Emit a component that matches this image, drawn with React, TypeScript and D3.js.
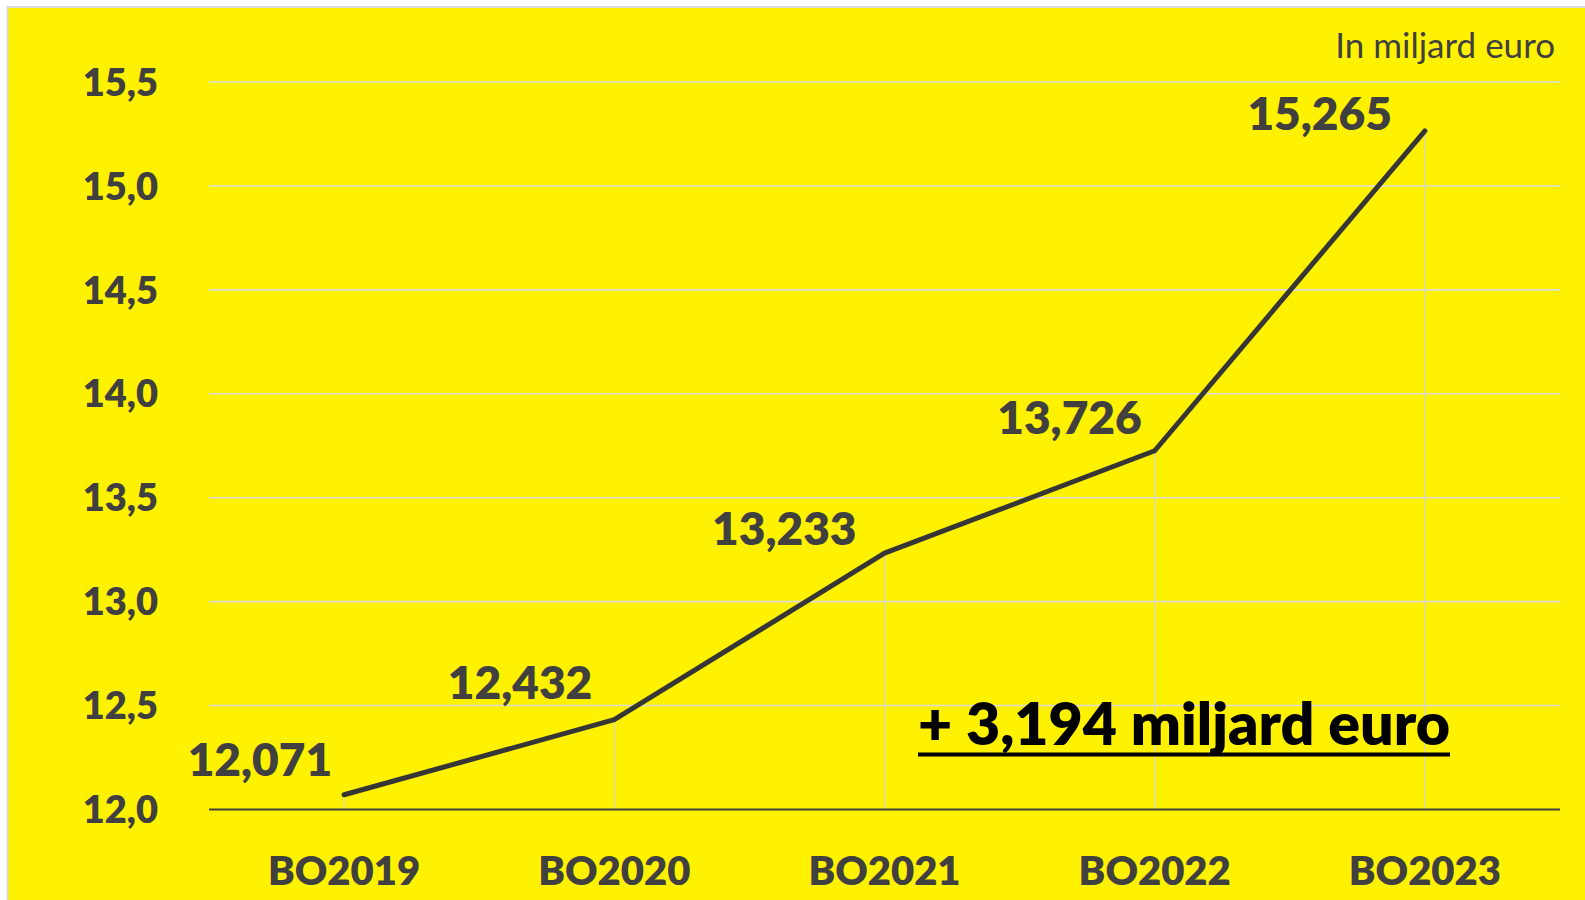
import React from "react";
import * as d3 from "d3";

const categories = ["BO2019", "BO2020", "BO2021", "BO2022", "BO2023"];
const values = [12.071, 12.432, 13.233, 13.726, 15.265];
const valueLabels = ["12,071", "12,432", "13,233", "13,726", "15,265"];
const yTicks = [12.0, 12.5, 13.0, 13.5, 14.0, 14.5, 15.0, 15.5];
const unitLabel = "In miljard euro";
const annotation = "+ 3,194 miljard euro";

// label nudges (dx to right edge, dy to baseline) relative to each point
const labelNudge: [number, number][] = [
  [-12, -19],
  [-22, -21],
  [-28, -8],
  [-13, -17],
  [-33, -1],
];

const W = 1585;
const H = 900;
const FONT = "Lato, 'Open Sans', sans-serif";
const TEXT = "#404040";

export default function App() {
  const x = d3.scalePoint<string>().domain(categories).range([209, 1560]).padding(0.5);
  const y = d3.scaleLinear().domain([12, 15.5]).range([809.5, 82]);
  const fmt = (v: number) => d3.format(".1f")(v).replace(".", ",");
  const line = d3
    .line<number>()
    .x((_, i) => x(categories[i]) as number)
    .y((d) => y(d));

  return (
    <svg
      width={W}
      height={H}
      style={{ position: "absolute", left: 0, top: 0, display: "block" }}
    >
      <rect x={0} y={0} width={W} height={H} fill="#ffffff" />
      <rect x={7.5} y={7} width={W + 10} height={H + 10} fill="#fff200" stroke="#d9d9d9" strokeWidth={2} />

      {/* gridlines */}
      {yTicks
        .filter((t) => t !== 12)
        .map((t) => (
          <line key={t} x1={209} x2={1560} y1={y(t)} y2={y(t)} stroke="#dcdcdc" strokeWidth={1.6} />
        ))}

      {/* drop lines */}
      {values.map((v, i) => (
        <line
          key={"d" + i}
          x1={x(categories[i]) as number}
          x2={x(categories[i]) as number}
          y1={y(v)}
          y2={y(12)}
          stroke="#d4d4d4"
          strokeWidth={1.2}
        />
      ))}

      {/* x axis line */}
      <line x1={209} x2={1560} y1={y(12)} y2={y(12)} stroke="#404040" strokeWidth={1.8} />

      {/* y tick labels */}
      {yTicks.map((t) => (
        <text
          key={"t" + t}
          x={158}
          y={y(t)}
          dy="0.36em"
          textAnchor="end"
          fontFamily={FONT}
          fontWeight={800}
          fontSize={38}
          fill={TEXT}
        >
          {fmt(t)}
        </text>
      ))}

      {/* x labels */}
      {categories.map((c) => (
        <text
          key={c}
          x={x(c) as number}
          y={885}
          textAnchor="middle"
          fontFamily={FONT}
          fontWeight={800}
          fontSize={40}
          fill={TEXT}
        >
          {c}
        </text>
      ))}

      {/* series line */}
      <path
        d={line(values) || ""}
        fill="none"
        stroke="#363636"
        strokeWidth={5}
        strokeLinejoin="round"
        strokeLinecap="round"
      />

      {/* data labels */}
      {values.map((v, i) => (
        <text
          key={"l" + i}
          x={(x(categories[i]) as number) + labelNudge[i][0]}
          y={y(v) + labelNudge[i][1]}
          textAnchor="end"
          fontFamily={FONT}
          fontWeight={800}
          fontSize={46}
          fill={TEXT}
        >
          {valueLabels[i]}
        </text>
      ))}

      {/* unit label */}
      <text
        x={1555}
        y={58}
        textAnchor="end"
        fontFamily={FONT}
        fontWeight={400}
        fontSize={35}
        fill={TEXT}
      >
        {unitLabel}
      </text>

      {/* annotation */}
      <text
        x={918}
        y={745}
        fontFamily={FONT}
        fontWeight={800}
        fontSize={58}
        fill="#000000"
        textLength={532}
        lengthAdjust="spacingAndGlyphs"
      >
        {annotation}
      </text>
      <line x1={918} x2={1450} y1={754.5} y2={754.5} stroke="#000000" strokeWidth={4} />
    </svg>
  );
}
